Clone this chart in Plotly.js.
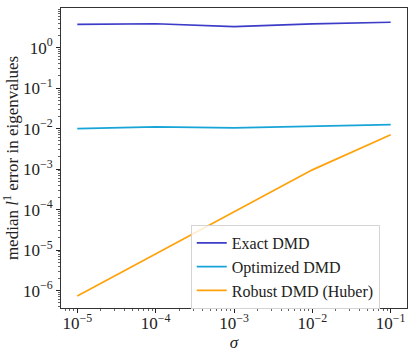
<!DOCTYPE html>
<html>
<head>
<meta charset="utf-8">
<script src="https://cdn.plot.ly/plotly-3.0.1.min.js"></script>
<style>
  html, body { margin: 0; padding: 0; background: #fff; }
  #plot { width: 416px; height: 354px; }
</style>
</head>
<body>
<div id="plot"></div>
<script>
// noise levels (sigma)
const sigma = [1e-5, 1e-4, 1e-3, 1e-2, 1e-1];

// median l1 error in eigenvalues
const exactDMD = [3.75, 3.9, 3.3, 3.85, 4.25];
const optimizedDMD = [0.0100, 0.0110, 0.0104, 0.0115, 0.0126];
const robustDMD = [7.3e-7, 7.9e-6, 8.9e-5, 9.6e-4, 7.1e-3];

const xTickVals = [1e-5, 1e-4, 1e-3, 1e-2, 1e-1];
const xTickText = ['10<sup>−5</sup>', '10<sup>−4</sup>', '10<sup>−3</sup>', '10<sup>−2</sup>', '10<sup>−1</sup>'];
const yTickVals = [1e-6, 1e-5, 1e-4, 1e-3, 1e-2, 1e-1, 1];
const yTickText = ['10<sup>−6</sup>', '10<sup>−5</sup>', '10<sup>−4</sup>', '10<sup>−3</sup>',
                   '10<sup>−2</sup>', '10<sup>−1</sup>', '10<sup>0</sup>'];

// minor ticks at 2..9 of each decade
function minorTicks(lo, hi) {
    const out = [];
    for (let e = lo; e <= hi; e++) {
        for (let m = 2; m <= 9; m++) out.push(m * Math.pow(10, e));
    }
    return out;
}

const font = 'Liberation Serif, Times New Roman, serif';

const traces = [
    { x: sigma, y: exactDMD, name: 'Exact DMD', mode: 'lines',
      line: { color: '#3c3cc8', width: 1.7 } },
    { x: sigma, y: optimizedDMD, name: 'Optimized DMD', mode: 'lines',
      line: { color: '#17a5d8', width: 1.7 } },
    { x: sigma, y: robustDMD, name: 'Robust DMD (Huber)', mode: 'lines',
      line: { color: '#ffa20a', width: 1.7 } }
];

const axisCommon = {
    type: 'log',
    showgrid: false,
    zeroline: false,
    showline: true,
    linecolor: '#333',
    linewidth: 1,
    mirror: true,
    ticks: 'outside',
    ticklen: 4,
    tickwidth: 1,
    tickcolor: '#222',
    tickmode: 'array',
    tickfont: { family: font, size: 17, color: '#222' }
};

const layout = {
    width: 416,
    height: 354,
    margin: { l: 61, r: 9, t: 8, b: 46 },
    paper_bgcolor: '#fff',
    plot_bgcolor: '#fff',
    font: { family: font, color: '#222' },
    showlegend: true,
    xaxis: Object.assign({}, axisCommon, {
        range: [-5.208, -0.792],
        tickvals: xTickVals,
        ticktext: xTickText,
        ticklabelstandoff: -4,
        minor: { tickmode: 'array', tickvals: minorTicks(-6, -1), ticks: 'outside',
                 ticklen: 2, tickwidth: 0.7, tickcolor: '#222' },
        title: { text: '<i>σ</i>', font: { family: font, size: 17, color: '#222' }, standoff: 0 }
    }),
    yaxis: Object.assign({}, axisCommon, {
        range: [-6.43, 0.98],
        tickvals: yTickVals,
        ticktext: yTickText,
        ticklabelstandoff: 0,
        minor: { tickmode: 'array', tickvals: minorTicks(-7, 0), ticks: 'outside',
                 ticklen: 2, tickwidth: 0.7, tickcolor: '#222' },
        title: { text: 'median <i>l</i><sup>1</sup> error in eigenvalues',
                 font: { family: font, size: 17, color: '#222' }, standoff: 0 }
    }),
    legend: {
        x: 0.375, y: 0.277, xanchor: 'left', yanchor: 'top',
        bgcolor: 'rgba(255,255,255,0.8)',
        bordercolor: '#d4d4d4',
        borderwidth: 1,
        font: { family: font, size: 16, color: '#222' },
        tracegroupgap: 0
    }
};

Plotly.newPlot('plot', traces, layout, { staticPlot: true, displayModeBar: false });
</script>
</body>
</html>
